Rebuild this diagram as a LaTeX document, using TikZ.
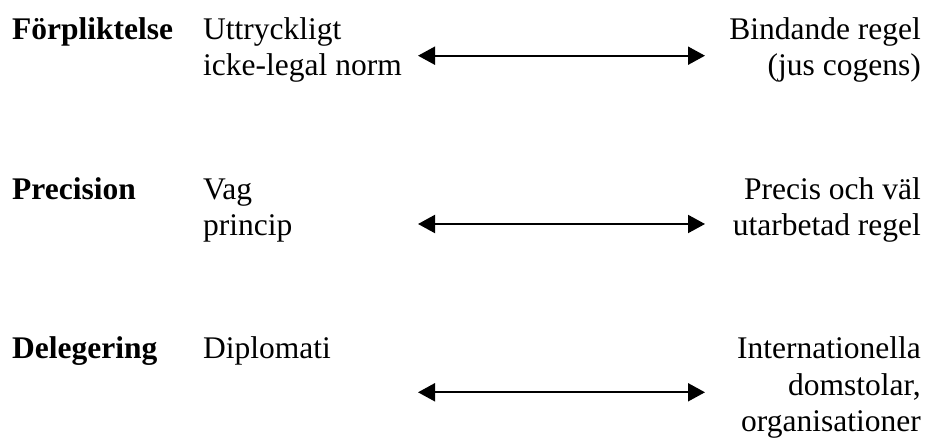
\documentclass[tikz,border=0pt]{standalone}
\usepackage{fontspec}
\setmainfont{Liberation Serif}
\usetikzlibrary{arrows.meta}
\begin{document}
\begin{tikzpicture}[x=1pt,y=1pt,
  txt/.style={inner sep=0pt, font=\fontsize{31.5}{36.7}\selectfont},
  lbl/.style={txt, font=\fontsize{31.5}{36.7}\selectfont\bfseries, anchor=base west},
  lefttxt/.style={txt, align=left, anchor=base west},
  righttxt/.style={txt, align=right, anchor=base east},
  dblarrow/.style={line width=2pt, {Triangle[length=17pt,width=18pt]}-{Triangle[length=17pt,width=18pt]}}]
\useasboundingbox (0,0) rectangle (926,-443);
% row 1 (multi-line nodes: base anchor = last line's baseline)
\node[lbl] (l1) at (12,-39.3) {Förpliktelse};
\node[lefttxt] (a1) at (203,-76) {Uttryckligt\\icke-legal norm};
\node[righttxt] (b1) at (921,-76) {Bindande regel\\(jus cogens)};
\coordinate (s1) at (418,-55.7);
\coordinate (e1) at (705,-55.7);
\draw[dblarrow] (s1) -- (e1);
% row 2
\node[lbl] (l2) at (12,-199.3) {Precision};
\node[lefttxt] (a2) at (203,-236) {Vag\\princip};
\node[righttxt] (b2) at (921,-236) {Precis och väl\\utarbetad regel};
\coordinate (s2) at (418,-224);
\coordinate (e2) at (705,-224);
\draw[dblarrow] (s2) -- (e2);
% row 3
\node[lbl] (l3) at (12,-358.3) {Delegering};
\node[lefttxt] (a3) at (203,-358.3) {Diplomati};
\node[righttxt] (b3) at (921,-431.7) {Internationella\\domstolar,\\organisationer};
\coordinate (s3) at (418,-392.3);
\coordinate (e3) at (705,-392.3);
\draw[dblarrow] (s3) -- (e3);
\end{tikzpicture}
\end{document}
